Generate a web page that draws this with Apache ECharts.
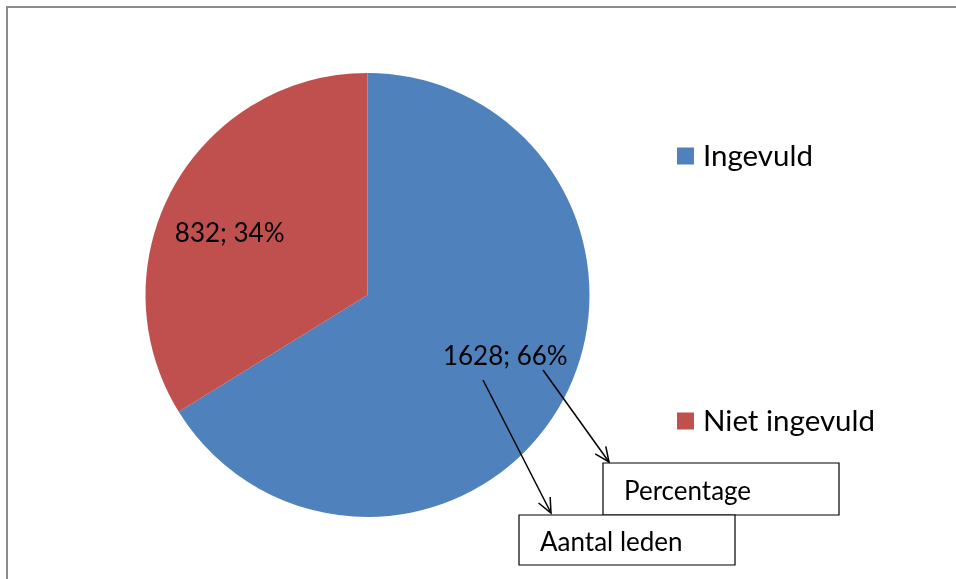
<!DOCTYPE html>
<html lang="nl">
<head>
  <meta charset="UTF-8">
  <title>Ingevuld / Niet ingevuld</title>
  <style>
    html, body { margin: 0; padding: 0; background: #fff; }
    #chart { width: 956px; height: 579px; }
  </style>
</head>
<body>
<div id="chart"></div>
<script src="https://cdn.jsdelivr.net/npm/echarts@6/dist/echarts.min.js"></script>
<script>
  // data
  var categories = ['Ingevuld', 'Niet ingevuld']
  var counts = [1628, 832]
  var notes = ['Percentage', 'Aantal leden']

  var pieData = categories.map(function (name, i) {
    return { name: name, value: counts[i] }
  })

  var font = 'Lato, "Open Sans", sans-serif'

  // open arrow: shaft + two short arms at the tip
  function arrow(x1, y1, x2, y2) {
    var a = Math.atan2(y2 - y1, x2 - x1)
    var len = 16, spread = 0.42
    var style = { stroke: '#000', lineWidth: 1.5, fill: null }
    return [
      { type: 'line', shape: { x1: x1, y1: y1, x2: x2, y2: y2 }, style: style, z: 10 },
      {
        type: 'polyline',
        shape: {
          points: [
            [x2 - len * Math.cos(a - spread), y2 - len * Math.sin(a - spread)],
            [x2, y2],
            [x2 - len * Math.cos(a + spread), y2 - len * Math.sin(a + spread)]
          ]
        },
        style: style,
        z: 10
      }
    ]
  }

  function noteBox(x, y, w, h, text) {
    return {
      type: 'group',
      z: 10,
      children: [
        { type: 'rect', shape: { x: x, y: y, width: w, height: h }, style: { fill: '#fff', stroke: '#000', lineWidth: 1.2 } },
        { type: 'text', x: x + 21, y: y + h / 2 + 3, style: { text: text, font: '26px ' + font, fill: '#000', verticalAlign: 'middle' } }
      ]
    }
  }

  function legendFor(name, top) {
    return {
      data: [name],
      orient: 'vertical',
      left: 672,
      top: top,
      icon: 'rect',
      itemWidth: 17,
      itemHeight: 17,
      selectedMode: false,
      textStyle: { fontSize: 29.5, fontFamily: font, color: '#000', padding: [0, 0, 0, 4] }
    }
  }

  var chart = echarts.init(document.getElementById('chart'), null, { renderer: 'canvas' })

  var option = {
    animation: false,
    backgroundColor: '#fff',
    color: ['#4F81BD', '#C0504D'],
    legend: [legendFor(categories[0], 136), legendFor(categories[1], 401)],
    series: [
      {
        type: 'pie',
        center: [367.5, 295],
        radius: [0, 222],
        startAngle: 90,
        clockwise: true,
        silent: true,
        label: { show: false },
        labelLine: { show: false },
        itemStyle: { borderWidth: 0 },
        data: pieData
      },
      {
        // invisible ring only used to place the value labels further out
        type: 'pie',
        center: [367.5, 295],
        radius: [0, 296],
        startAngle: 95,
        clockwise: true,
        silent: true,
        z: 5,
        itemStyle: { color: 'rgba(0,0,0,0)', borderWidth: 0 },
        labelLine: { show: false },
        label: {
          show: true,
          position: 'inside',
          fontSize: 26,
          fontFamily: font,
          color: '#000',
          formatter: function (p) {
            return p.value + '; ' + Math.round(p.percent) + '%'
          }
        },
        data: pieData
      }
    ],
    graphic: [
      { type: 'rect', shape: { x: 7, y: 7, width: 1200, height: 1200 }, style: { fill: null, stroke: '#8c8c8c', lineWidth: 2 }, z: 0 },
      noteBox(603, 463, 236, 52, notes[0]),
      noteBox(519, 515, 216, 50, notes[1])
    ].concat(arrow(483, 380, 551, 513), arrow(543, 370, 609, 462))
  }

  chart.setOption(option)
  window.addEventListener('resize', chart.resize)
</script>
</body>
</html>
